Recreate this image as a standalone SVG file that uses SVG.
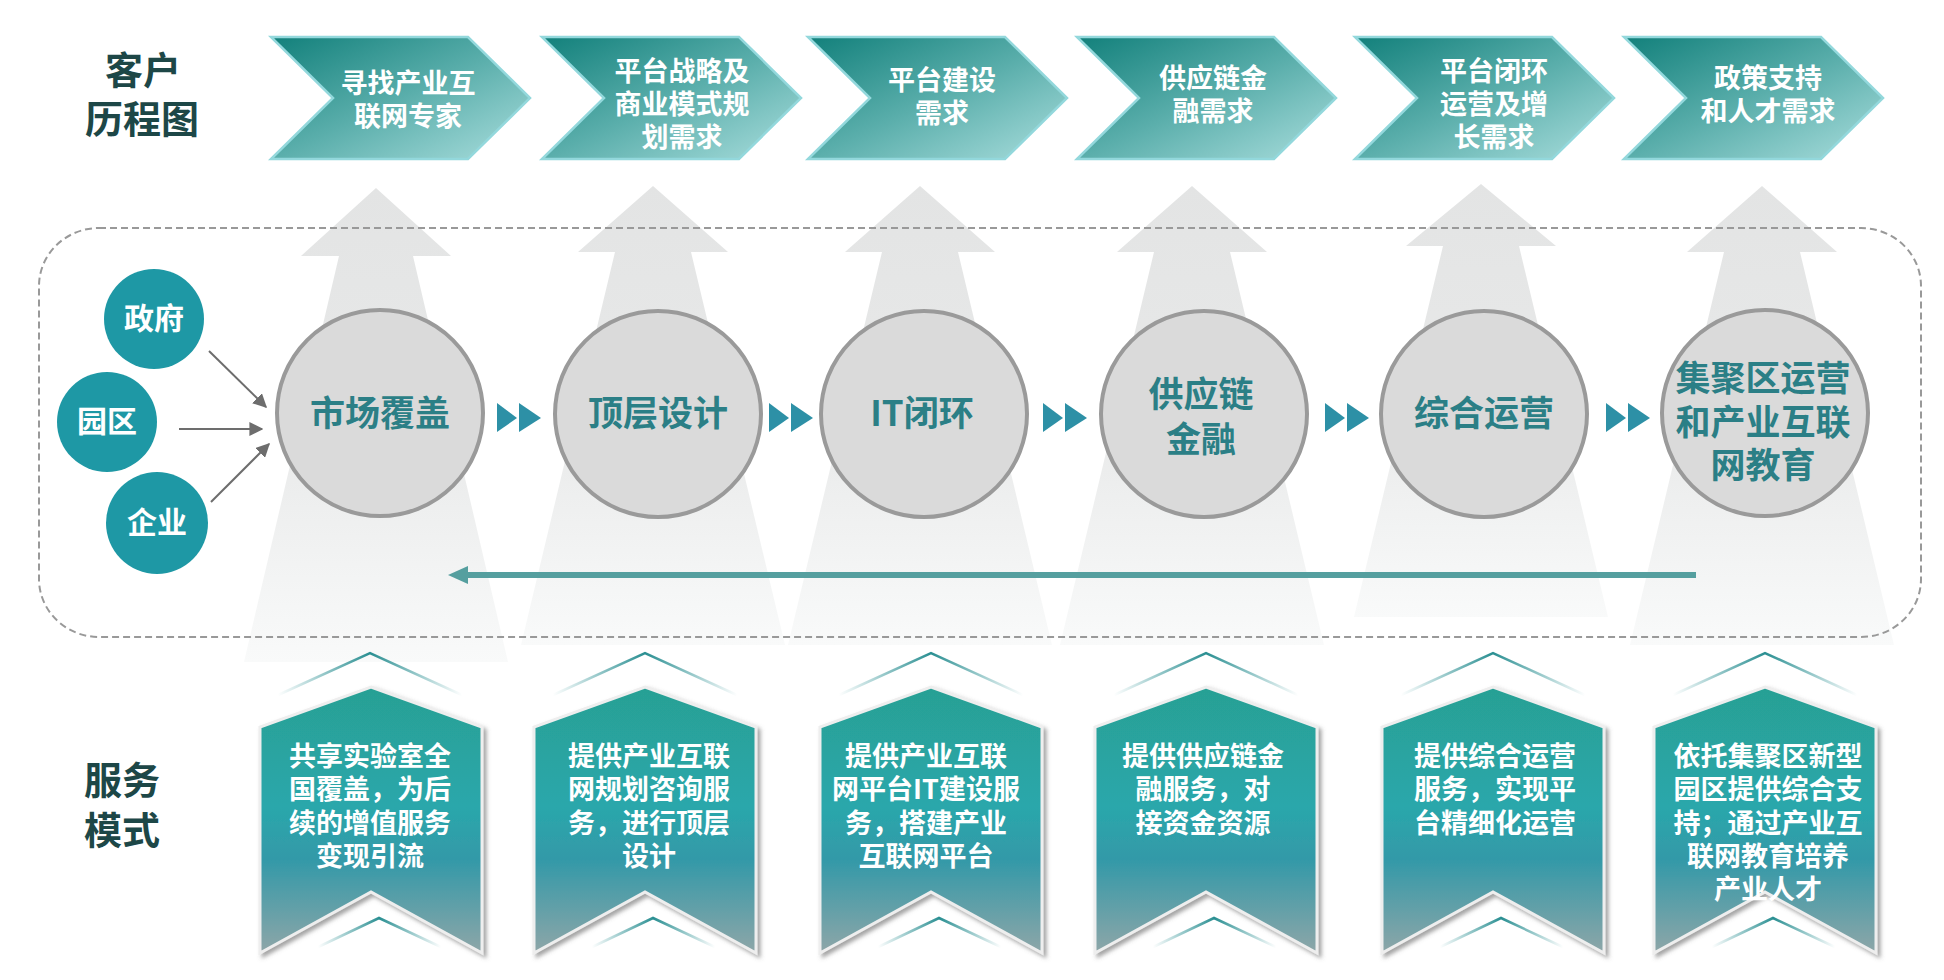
<svg xmlns="http://www.w3.org/2000/svg" width="1944" height="980" viewBox="0 0 1944 980">
<style>
text{font-family:"Noto Sans CJK SC","Noto Sans",sans-serif;font-weight:700;text-anchor:middle;dominant-baseline:central}
.title{font-size:38px;fill:#1d4747}
.jt{font-size:27px;fill:#ffffff}
.bt{font-size:27px;fill:#ffffff}
.ct{font-size:35px;fill:#2b7f86}
.st{font-size:30px;fill:#ffffff}
.chev{fill:url(#gChev);stroke:#93d8dc;stroke-width:2.5}
.garrow{fill:url(#gGray)}
.big{fill:#dadada;stroke:#9a9a9a;stroke-width:4}
.src{fill:#1e98a5}
.ban{fill:url(#gBan);stroke:#eeeeee;stroke-width:3;filter:url(#sh)}
.deco{fill:none;stroke:url(#gDeco);stroke-width:2.5}
.tri{fill:#2d90a6}
.sl{stroke:#6d6d6d;stroke-width:2;fill:none;marker-end:url(#ah)}
</style>
<defs>
<linearGradient id="gChev" x1="0" y1="0" x2="1" y2="1">
<stop offset="0" stop-color="#12807b"/>
<stop offset="0.5" stop-color="#5aaeab"/>
<stop offset="1" stop-color="#aadedd"/>
</linearGradient>
<linearGradient id="gGray" x1="0" y1="0" x2="0" y2="1">
<stop offset="0" stop-color="#e3e4e4"/>
<stop offset="0.5" stop-color="#e8e9e9"/>
<stop offset="1" stop-color="#f9fafa"/>
</linearGradient>
<linearGradient id="gBan" x1="0" y1="0" x2="0" y2="1">
<stop offset="0" stop-color="#28a094"/>
<stop offset="0.45" stop-color="#2aa7ab"/>
<stop offset="0.65" stop-color="#3399a8"/>
<stop offset="1" stop-color="#8ea6a8"/>
</linearGradient>
<linearGradient id="gDeco" x1="0" y1="0" x2="1" y2="0">
<stop offset="0" stop-color="#2a8f92" stop-opacity="0"/>
<stop offset="0.5" stop-color="#2a8f92" stop-opacity="1"/>
<stop offset="1" stop-color="#2a8f92" stop-opacity="0"/>
</linearGradient>
<filter id="sh" x="-10%" y="-10%" width="125%" height="125%">
<feDropShadow dx="3" dy="3" stdDeviation="2" flood-color="#666666" flood-opacity="0.6"/>
</filter>
<marker id="ah" viewBox="0 0 10 10" refX="9" refY="5" markerWidth="7" markerHeight="7" orient="auto" markerUnits="strokeWidth">
<path d="M0,0 L10,5 L0,10 Z" fill="#6d6d6d"/>
</marker>
</defs>
<rect width="1944" height="980" fill="#ffffff"/>

<g id="bg-arrows">
<path class="garrow" d="M376,188 L451,256 L413,256 L508,662 L244,662 L339,256 L301,256 Z"/>
<path class="garrow" d="M653,186 L728,252 L691,252 L785,645 L521,645 L615,252 L578,252 Z"/>
<path class="garrow" d="M920,186 L995,252 L958,252 L1052,645 L788,645 L882,252 L845,252 Z"/>
<path class="garrow" d="M1192,186 L1267,252 L1230,252 L1324,645 L1060,645 L1154,252 L1117,252 Z"/>
<path class="garrow" d="M1481,184 L1556,246 L1519,246 L1608,617 L1354,617 L1443,246 L1406,246 Z"/>
<path class="garrow" d="M1762,186 L1837,252 L1800,252 L1894,645 L1630,645 L1724,252 L1687,252 Z"/>
</g>

<rect id="frame" x="39" y="228" width="1882" height="409" rx="60" ry="58" fill="none" stroke="#999999" stroke-width="2" stroke-dasharray="7,4"/>

<g id="title-journey">
<text class="title" x="143" y="67"><tspan x="143">客户</tspan><tspan x="142" dy="49">历程图</tspan></text>
</g>
<g id="title-service">
<text class="title" x="122" y="777"><tspan x="122">服务</tspan><tspan x="122" dy="50">模式</tspan></text>
</g>

<g id="j1">
<polygon class="chev" points="271,37 468,37 530,98 468,159 271,159 333,98"/>
<text class="jt" x="408" y="81"><tspan x="408">寻找产业互</tspan><tspan x="408" dy="33">联网专家</tspan></text>
</g>
<g id="j2">
<polygon class="chev" points="542,37 739,37 801,98 739,159 542,159 604,98"/>
<text class="jt" x="682" y="69"><tspan x="682">平台战略及</tspan><tspan x="682" dy="33">商业模式规</tspan><tspan x="682" dy="33">划需求</tspan></text>
</g>
<g id="j3">
<polygon class="chev" points="808,37 1005,37 1067,98 1005,159 808,159 870,98"/>
<text class="jt" x="942" y="78"><tspan x="942">平台建设</tspan><tspan x="942" dy="33">需求</tspan></text>
</g>
<g id="j4">
<polygon class="chev" points="1077,37 1274,37 1336,98 1274,159 1077,159 1139,98"/>
<text class="jt" x="1213" y="76"><tspan x="1213">供应链金</tspan><tspan x="1213" dy="33">融需求</tspan></text>
</g>
<g id="j5">
<polygon class="chev" points="1355,37 1552,37 1614,98 1552,159 1355,159 1417,98"/>
<text class="jt" x="1494" y="69"><tspan x="1494">平台闭环</tspan><tspan x="1494" dy="33">运营及增</tspan><tspan x="1494" dy="33">长需求</tspan></text>
</g>
<g id="j6">
<polygon class="chev" points="1624,37 1821,37 1883,98 1821,159 1624,159 1686,98"/>
<text class="jt" x="1768" y="76"><tspan x="1768">政策支持</tspan><tspan x="1768" dy="33">和人才需求</tspan></text>
</g>

<g id="s-gov">
<circle class="src" cx="154" cy="319" r="50"/>
<text class="st" x="154" y="316">政府</text>
</g>
<g id="s-park">
<circle class="src" cx="107" cy="422" r="50"/>
<text class="st" x="107" y="419">园区</text>
</g>
<g id="s-ent">
<circle class="src" cx="157" cy="523" r="51"/>
<text class="st" x="157" y="520">企业</text>
</g>

<g id="c1">
<circle class="big" cx="380" cy="413" r="103"/>
<text class="ct" x="380" y="410">市场覆盖</text>
</g>
<g id="c2">
<circle class="big" cx="658" cy="414" r="103"/>
<text class="ct" x="658" y="410">顶层设计</text>
</g>
<g id="c3">
<circle class="big" cx="924" cy="414" r="103"/>
<text class="ct" x="922" y="410">IT闭环</text>
</g>
<g id="c4">
<circle class="big" cx="1204" cy="414" r="103"/>
<text class="ct" x="1201" y="391"><tspan x="1201">供应链</tspan><tspan x="1201" dy="45">金融</tspan></text>
</g>
<g id="c5">
<circle class="big" cx="1484" cy="414" r="103"/>
<text class="ct" x="1484" y="410">综合运营</text>
</g>
<g id="c6">
<circle class="big" cx="1765" cy="413" r="103"/>
<text class="ct" x="1763" y="375"><tspan x="1763">集聚区运营</tspan><tspan x="1763" dy="44">和产业互联</tspan><tspan x="1763" dy="43">网教育</tspan></text>
</g>

<g id="connectors">
<line class="sl" x1="209" y1="351" x2="266" y2="407"/>
<line class="sl" x1="179" y1="429" x2="262" y2="429"/>
<line class="sl" x1="211" y1="502" x2="269" y2="444"/>
<polygon class="tri" points="497,403 517,418 497,432"/>
<polygon class="tri" points="519,403 541,418 519,432"/>
<polygon class="tri" points="769,403 789,418 769,432"/>
<polygon class="tri" points="791,403 813,418 791,432"/>
<polygon class="tri" points="1043,403 1063,418 1043,432"/>
<polygon class="tri" points="1065,403 1087,418 1065,432"/>
<polygon class="tri" points="1325,403 1345,418 1325,432"/>
<polygon class="tri" points="1347,403 1369,418 1347,432"/>
<polygon class="tri" points="1606,403 1626,418 1606,432"/>
<polygon class="tri" points="1628,403 1650,418 1628,432"/>
<line x1="1696" y1="575" x2="464" y2="575" stroke="#559f9f" stroke-width="6"/>
<polygon points="448,575 468,566 468,584" fill="#559f9f"/>
</g>

<g id="b1">
<polyline class="deco" points="278,695 370,653 462,695"/>
<polygon class="ban" points="371,687 482,727 482,953 371,892 260,953 260,727"/>
<polyline class="deco" points="318,947 379,918 441,947"/>
<text class="bt" x="370" y="754"><tspan x="370">共享实验室全</tspan><tspan x="370" dy="33.3">国覆盖，为后</tspan><tspan x="370" dy="33.3">续的增值服务</tspan><tspan x="370" dy="33.3">变现引流</tspan></text>
</g>
<g id="b2">
<polyline class="deco" points="553,695 645,653 737,695"/>
<polygon class="ban" points="645,687 756,727 756,953 645,892 534,953 534,727"/>
<polyline class="deco" points="592,947 653,918 715,947"/>
<text class="bt" x="649" y="754"><tspan x="649">提供产业互联</tspan><tspan x="649" dy="33.3">网规划咨询服</tspan><tspan x="649" dy="33.3">务，进行顶层</tspan><tspan x="649" dy="33.3">设计</tspan></text>
</g>
<g id="b3">
<polyline class="deco" points="839,695 931,653 1023,695"/>
<polygon class="ban" points="931,687 1042,727 1042,953 931,892 820,953 820,727"/>
<polyline class="deco" points="878,947 939,918 1001,947"/>
<text class="bt" x="926" y="754"><tspan x="926">提供产业互联</tspan><tspan x="926" dy="33.3">网平台IT建设服</tspan><tspan x="926" dy="33.3">务，搭建产业</tspan><tspan x="926" dy="33.3">互联网平台</tspan></text>
</g>
<g id="b4">
<polyline class="deco" points="1114,695 1206,653 1298,695"/>
<polygon class="ban" points="1206,687 1317,727 1317,953 1206,892 1095,953 1095,727"/>
<polyline class="deco" points="1153,947 1214,918 1276,947"/>
<text class="bt" x="1203" y="754"><tspan x="1203">提供供应链金</tspan><tspan x="1203" dy="33.3">融服务，对</tspan><tspan x="1203" dy="33.3">接资金资源</tspan></text>
</g>
<g id="b5">
<polyline class="deco" points="1401,695 1493,653 1585,695"/>
<polygon class="ban" points="1493,687 1604,727 1604,953 1493,892 1382,953 1382,727"/>
<polyline class="deco" points="1440,947 1501,918 1563,947"/>
<text class="bt" x="1495" y="754"><tspan x="1495">提供综合运营</tspan><tspan x="1495" dy="33.3">服务，实现平</tspan><tspan x="1495" dy="33.3">台精细化运营</tspan></text>
</g>
<g id="b6">
<polyline class="deco" points="1673,695 1765,653 1857,695"/>
<polygon class="ban" points="1765,687 1876,727 1876,953 1765,892 1654,953 1654,727"/>
<polyline class="deco" points="1712,947 1773,918 1835,947"/>
<text class="bt" x="1768" y="754"><tspan x="1768">依托集聚区新型</tspan><tspan x="1768" dy="33.3">园区提供综合支</tspan><tspan x="1768" dy="33.3">持；通过产业互</tspan><tspan x="1768" dy="33.3">联网教育培养</tspan><tspan x="1768" dy="33.3">产业人才</tspan></text>
</g>
</svg>
